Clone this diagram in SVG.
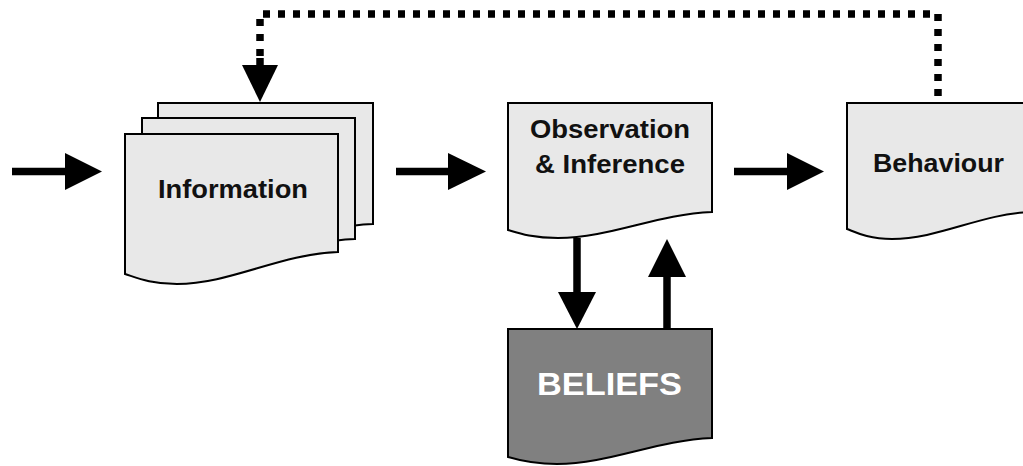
<svg xmlns="http://www.w3.org/2000/svg" width="1023" height="466" viewBox="0 0 1023 466">
  <style>
    .doc { fill: #e8e8e8; stroke: #000; stroke-width: 2; stroke-linejoin: miter; }
    .doc-dark { fill: #808080; stroke: #000; stroke-width: 2; }
    .label { font-family: "Liberation Sans", Arial, sans-serif; font-weight: bold; font-size: 25px; fill: #111; text-anchor: middle; }
    .label-big { font-family: "Liberation Sans", Arial, sans-serif; font-weight: bold; font-size: 32px; fill: #fff; text-anchor: middle; }
    .shaft { stroke: #000; stroke-width: 7.5; fill: none; }
    .head { fill: #000; stroke: none; }
    .feedback { stroke: #000; stroke-width: 7.5; fill: none; stroke-dasharray: 7 8; }
  </style>
  <rect width="1023" height="466" fill="#fff"/>

  <!-- Information: stack of three document sheets -->
  <g id="information">
    <path class="doc" d="M158,103 H373 V224 C315,226 265,256 212,256 C185,256 170,249 158,246 Z"/>
    <path class="doc" d="M142,118 H355 V239 C297,241 247,271 194,271 C167,271 152,264 142,261 Z"/>
    <path class="doc" d="M125,134 H338 V252 C280,254 230,284 177,284 C150,284 135,277 125,274 Z"/>
    <text class="label" x="233" y="198" textLength="150" lengthAdjust="spacingAndGlyphs">Information</text>
  </g>

  <!-- Observation & Inference -->
  <g id="observation">
    <path class="doc" d="M508,103 H712 V212 C657,214 610,238 558,238 C532,238 518,233 508,230 Z"/>
    <text class="label" x="610" y="138" textLength="160" lengthAdjust="spacingAndGlyphs">Observation</text>
    <text class="label" x="610" y="173" textLength="150" lengthAdjust="spacingAndGlyphs">&amp; Inference</text>
  </g>

  <!-- Behaviour (runs off the right edge) -->
  <g id="behaviour">
    <path class="doc" d="M847,103 H1030 V212 C981,214 938,239 892,239 C868,239 855,232 847,229 Z"/>
    <text class="label" x="938.5" y="172" textLength="131" lengthAdjust="spacingAndGlyphs">Behaviour</text>
  </g>

  <!-- Beliefs -->
  <g id="beliefs">
    <path class="doc-dark" d="M508,329 H712 V438 C657,440 609,464 557,464 C532,464 518,460 508,457 Z"/>
    <text class="label-big" x="609.5" y="395" textLength="145" lengthAdjust="spacingAndGlyphs">BELIEFS</text>
  </g>

  <!-- Connectors -->
  <g id="connectors">
    <!-- input into Information -->
    <line class="shaft" x1="12" y1="171.5" x2="67" y2="171.5"/>
    <polygon class="head" points="65,153 65,190 102,171.5"/>
    <!-- Information to Observation -->
    <line class="shaft" x1="396" y1="171.5" x2="450" y2="171.5"/>
    <polygon class="head" points="448,153 448,190 486,171.5"/>
    <!-- Observation to Behaviour -->
    <line class="shaft" x1="734" y1="171.5" x2="789" y2="171.5"/>
    <polygon class="head" points="787,153 787,190 824,171.5"/>
    <!-- Observation down to Beliefs -->
    <line class="shaft" x1="577" y1="238" x2="577" y2="294"/>
    <polygon class="head" points="558,292 596,292 577,329"/>
    <!-- Beliefs up to Observation -->
    <line class="shaft" x1="667" y1="329" x2="667" y2="275"/>
    <polygon class="head" points="648,277 686,277 667,239"/>
    <!-- feedback loop from Behaviour back to Information -->
    <path class="feedback" d="M938,96 V14 H260 V60"/>
    <line class="shaft" x1="260" y1="58" x2="260" y2="67"/>
    <polygon class="head" points="242,65 278,65 260,102"/>
  </g>
</svg>
